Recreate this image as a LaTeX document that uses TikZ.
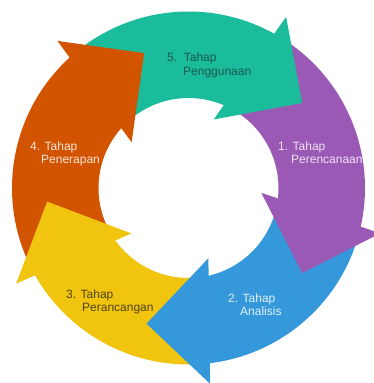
\documentclass[tikz,border=0pt]{standalone}
\usepackage{fontspec}
\setmainfont{Liberation Sans}
\definecolor{cTeal}{HTML}{1ABC9C}
\definecolor{cPurple}{HTML}{9B59B6}
\definecolor{cBlue}{HTML}{3498DB}
\definecolor{cYellow}{HTML}{F1C40F}
\definecolor{cOrange}{HTML}{D35400}
\definecolor{tTeal}{HTML}{1B5A4E}
\definecolor{tPurple}{HTML}{EEE2F4}
\definecolor{tBlue}{HTML}{E2F0FA}
\definecolor{tYellow}{HTML}{4F4416}
\definecolor{tOrange}{HTML}{F8E6DA}
\newcommand\cycbody[3]{\fill[#1] (#2:176.5pt) arc[start angle=#2,end angle=#3,radius=176.5pt] -- (#3:90pt) arc[start angle=#3,end angle=#2,radius=90pt] -- cycle;}
\newcommand\cychead[2]{\fill[#1] (#2:142pt) -- ({#2+23.5}:197pt) -- ({#2+33}:73pt) -- cycle;}
\begin{document}
\begin{tikzpicture}[x=1pt,y=1pt,
  lbl/.style={anchor=base west,inner sep=0pt,font=\fontsize{12}{13}\selectfont}]
\useasboundingbox (-188.5,-195) rectangle (184.5,188);
% bodies
\cycbody{cTeal}{129.2}{57.8}
\cycbody{cPurple}{57.8}{-15.8}
\cycbody{cBlue}{-15.8}{-86.2}
\cycbody{cYellow}{-86.2}{-153.5}
\cycbody{cOrange}{206.5}{129.2}
% heads
\cychead{cTeal}{36.8}
\cychead{cPurple}{-36.8}
\cychead{cBlue}{-107.2}
\cychead{cYellow}{-174.5}
\cychead{cOrange}{108.2}
% labels
\node[lbl,text=tPurple] (t1a) at (89.5,38) {1. Tahap};
\node[lbl,text=tPurple] (t1b) at (102.5,25) {Perencanaan};
\node[lbl,text=tBlue] (t2a) at (39.5,-114) {2. Tahap};
\node[lbl,text=tBlue] (t2b) at (51.5,-127) {Analisis};
\node[lbl,text=tYellow] (t3a) at (-122.5,-110) {3. Tahap};
\node[lbl,text=tYellow] (t3b) at (-106.5,-123) {Perancangan};
\node[lbl,text=tOrange] (t4a) at (-158.5,38) {4. Tahap};
\node[lbl,text=tOrange] (t4b) at (-147.5,25) {Penerapan};
\node[lbl,text=tTeal] (t5a) at (-21.5,126) {5.\ \ Tahap};
\node[lbl,text=tTeal] (t5b) at (-5.5,113) {Penggunaan};
\end{tikzpicture}
\end{document}
